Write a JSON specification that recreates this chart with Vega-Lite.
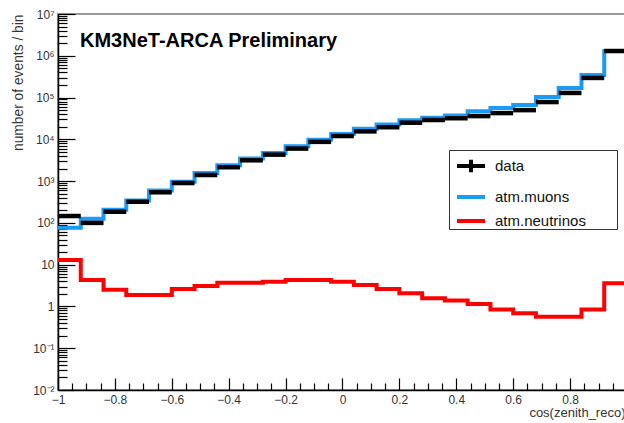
{
  "$schema": "https://vega.github.io/schema/vega-lite/v6.json",
  "width": 567,
  "height": 376,
  "autosize": {"type": "none"},
  "padding": {"left": 58, "top": 14, "right": 0, "bottom": 33},
  "background": "white",
  "config": {
    "font": "Liberation Sans",
    "view": {"stroke": "#777", "strokeWidth": 1.5},
    "axis": {"grid": false}
  },
  "title": {
    "text": "KM3NeT-ARCA Preliminary",
    "anchor": "start",
    "frame": "group",
    "orient": "top",
    "offset": 0,
    "dx": 22,
    "dy": 59,
    "baseline": "alphabetic",
    "font": "Liberation Sans",
    "fontSize": 20,
    "fontWeight": "bold",
    "color": "#000"
  },
  "datasets": {
    "hist": [
      {"series": "atm.muons", "x": -1.00, "y": 76},
      {"series": "atm.muons", "x": -0.92, "y": 125},
      {"series": "atm.muons", "x": -0.84, "y": 205},
      {"series": "atm.muons", "x": -0.76, "y": 345},
      {"series": "atm.muons", "x": -0.68, "y": 600},
      {"series": "atm.muons", "x": -0.60, "y": 960},
      {"series": "atm.muons", "x": -0.52, "y": 1560},
      {"series": "atm.muons", "x": -0.44, "y": 2400},
      {"series": "atm.muons", "x": -0.36, "y": 3500},
      {"series": "atm.muons", "x": -0.28, "y": 4700},
      {"series": "atm.muons", "x": -0.20, "y": 6800},
      {"series": "atm.muons", "x": -0.12, "y": 9800},
      {"series": "atm.muons", "x": -0.04, "y": 13500},
      {"series": "atm.muons", "x": 0.04, "y": 17800},
      {"series": "atm.muons", "x": 0.12, "y": 22500},
      {"series": "atm.muons", "x": 0.20, "y": 28500},
      {"series": "atm.muons", "x": 0.28, "y": 33000},
      {"series": "atm.muons", "x": 0.36, "y": 37000},
      {"series": "atm.muons", "x": 0.44, "y": 47000},
      {"series": "atm.muons", "x": 0.52, "y": 56000},
      {"series": "atm.muons", "x": 0.60, "y": 66000},
      {"series": "atm.muons", "x": 0.68, "y": 103000},
      {"series": "atm.muons", "x": 0.76, "y": 170000},
      {"series": "atm.muons", "x": 0.84, "y": 347000},
      {"series": "atm.muons", "x": 0.92, "y": 1300000},
      {"series": "atm.muons", "x": 1.00, "y": 1300000},
      {"series": "atm.neutrinos", "x": -1.00, "y": 12.9},
      {"series": "atm.neutrinos", "x": -0.92, "y": 4.3},
      {"series": "atm.neutrinos", "x": -0.84, "y": 2.5},
      {"series": "atm.neutrinos", "x": -0.76, "y": 1.87},
      {"series": "atm.neutrinos", "x": -0.68, "y": 1.87},
      {"series": "atm.neutrinos", "x": -0.60, "y": 2.6},
      {"series": "atm.neutrinos", "x": -0.52, "y": 3.1},
      {"series": "atm.neutrinos", "x": -0.44, "y": 3.7},
      {"series": "atm.neutrinos", "x": -0.36, "y": 3.7},
      {"series": "atm.neutrinos", "x": -0.28, "y": 3.9},
      {"series": "atm.neutrinos", "x": -0.20, "y": 4.3},
      {"series": "atm.neutrinos", "x": -0.12, "y": 4.3},
      {"series": "atm.neutrinos", "x": -0.04, "y": 3.9},
      {"series": "atm.neutrinos", "x": 0.04, "y": 3.26},
      {"series": "atm.neutrinos", "x": 0.12, "y": 2.6},
      {"series": "atm.neutrinos", "x": 0.20, "y": 2.06},
      {"series": "atm.neutrinos", "x": 0.28, "y": 1.57},
      {"series": "atm.neutrinos", "x": 0.36, "y": 1.38},
      {"series": "atm.neutrinos", "x": 0.44, "y": 1.15},
      {"series": "atm.neutrinos", "x": 0.52, "y": 0.85},
      {"series": "atm.neutrinos", "x": 0.60, "y": 0.69},
      {"series": "atm.neutrinos", "x": 0.68, "y": 0.57},
      {"series": "atm.neutrinos", "x": 0.76, "y": 0.57},
      {"series": "atm.neutrinos", "x": 0.84, "y": 0.85},
      {"series": "atm.neutrinos", "x": 0.92, "y": 3.6},
      {"series": "atm.neutrinos", "x": 1.00, "y": 3.6}
    ],
    "obs": [
      {"lo": -1.00, "hi": -0.92, "n": 146},
      {"lo": -0.92, "hi": -0.84, "n": 100},
      {"lo": -0.84, "hi": -0.76, "n": 185},
      {"lo": -0.76, "hi": -0.68, "n": 320},
      {"lo": -0.68, "hi": -0.60, "n": 540},
      {"lo": -0.60, "hi": -0.52, "n": 900},
      {"lo": -0.52, "hi": -0.44, "n": 1400},
      {"lo": -0.44, "hi": -0.36, "n": 2150},
      {"lo": -0.36, "hi": -0.28, "n": 3150},
      {"lo": -0.28, "hi": -0.20, "n": 4300},
      {"lo": -0.20, "hi": -0.12, "n": 6000},
      {"lo": -0.12, "hi": -0.04, "n": 8700},
      {"lo": -0.04, "hi": 0.04, "n": 12000},
      {"lo": 0.04, "hi": 0.12, "n": 15500},
      {"lo": 0.12, "hi": 0.20, "n": 19500},
      {"lo": 0.20, "hi": 0.28, "n": 25000},
      {"lo": 0.28, "hi": 0.36, "n": 29000},
      {"lo": 0.36, "hi": 0.44, "n": 32000},
      {"lo": 0.44, "hi": 0.52, "n": 36000},
      {"lo": 0.52, "hi": 0.60, "n": 42500},
      {"lo": 0.60, "hi": 0.68, "n": 50000},
      {"lo": 0.68, "hi": 0.76, "n": 78000},
      {"lo": 0.76, "hi": 0.84, "n": 129000},
      {"lo": 0.84, "hi": 0.92, "n": 295000},
      {"lo": 0.92, "hi": 1.00, "n": 1300000}
    ]
  },
  "resolve": {"axis": {"x": "independent", "y": "independent"}},
  "layer": [
    {
      "data": {"name": "hist"},
      "mark": {"type": "line", "interpolate": "step-after", "strokeWidth": 4, "clip": true},
      "encoding": {
        "x": {
          "field": "x", "type": "quantitative",
          "scale": {"domain": [-1, 0.993], "nice": false, "zero": false},
          "axis": {
            "orient": "bottom",
            "values": [-1, -0.8, -0.6, -0.4, -0.2, 0, 0.2, 0.4, 0.6, 0.8],
            "format": "~g",
            "tickSize": -12, "tickWidth": 1.2, "tickColor": "#000",
            "domainColor": "#000", "domainWidth": 1.5,
            "labelFontSize": 12, "labelColor": "#333", "labelPadding": 16,
            "labelFlush": false,
            "title": "cos(zenith_reco)", "titleAnchor": "end", "titleFontSize": 13,
            "titleFontWeight": "normal", "titleColor": "#333", "titlePadding": 1
          }
        },
        "y": {
          "field": "y", "type": "quantitative",
          "scale": {"type": "log", "domain": [0.01, 10000000], "nice": false},
          "axis": {
            "orient": "left",
            "values": [0.01, 0.1, 1, 10, 100, 1000, 10000, 100000, 1000000, 10000000],
            "labelExpr": "['10⁻²','10⁻¹','1','10','10²','10³','10⁴','10⁵','10⁶','10⁷'][round(log(datum.value)/LN10)+2]",
            "tickSize": -17, "tickWidth": 1.2, "tickColor": "#000",
            "domainColor": "#000", "domainWidth": 1.5,
            "labelFontSize": 12, "labelColor": "#333", "labelPadding": 21,
            "labelFlush": false,
            "title": "number of events / bin", "titleAnchor": "end", "titleFontSize": 13.8,
            "titleFontWeight": "normal", "titleColor": "#333", "titlePadding": 7
          }
        },
        "color": {
          "field": "series", "type": "nominal",
          "scale": {"domain": ["data", "atm.muons", "atm.neutrinos"], "range": ["#000000", "#1a9bf5", "#ff0000"]},
          "legend": {
            "title": null,
            "orient": "none",
            "legendX": 391,
            "legendY": 136,
            "padding": 0,
            "strokeColor": "#333",
            "fillColor": "#ffffff",
            "symbolSize": 784,
            "symbolStrokeWidth": 4,
            "symbolOffset": 6,
            "labelOffset": 8,
            "labelFontSize": 15,
            "labelColor": "#111",
            "rowPadding": 0,
            "labelExpr": "datum.label + '\u2800\u00a0\u00a0\u2800'",
            "encode": {
              "symbols": {
                "update": {
                  "shape": {"signal": "datum.value === 'data' ? 'M-1,0H1M0,-0.45V0.45' : 'M-1,0H1'"}
                }
              }
            }
          }
        }
      }
    },
    {
      "data": {"name": "obs"},
      "mark": {"type": "rule", "strokeWidth": 4.5, "clip": true},
      "encoding": {
        "x": {
          "field": "lo", "type": "quantitative",
          "axis": {
            "orient": "bottom",
            "values": [-0.95, -0.9, -0.85, -0.75, -0.7, -0.65, -0.55, -0.5, -0.45, -0.35, -0.3, -0.25, -0.15, -0.1, -0.05, 0.05, 0.1, 0.15, 0.25, 0.3, 0.35, 0.45, 0.5, 0.55, 0.65, 0.7, 0.75, 0.85, 0.9, 0.95],
            "labels": false, "domain": false, "title": null,
            "tickSize": -7, "tickWidth": 1.2, "tickColor": "#000"
          }
        },
        "x2": {"field": "hi"},
        "y": {
          "field": "n", "type": "quantitative",
          "axis": {
            "orient": "left",
            "values": [0.02,0.03,0.04,0.05,0.06,0.07,0.08,0.09,0.2,0.3,0.4,0.5,0.6,0.7,0.8,0.9,2,3,4,5,6,7,8,9,20,30,40,50,60,70,80,90,200,300,400,500,600,700,800,900,2000,3000,4000,5000,6000,7000,8000,9000,20000,30000,40000,50000,60000,70000,80000,90000,200000,300000,400000,500000,600000,700000,800000,900000,2000000,3000000,4000000,5000000,6000000,7000000,8000000,9000000],
            "labels": false, "domain": false, "title": null,
            "tickSize": -9, "tickWidth": 1.2, "tickColor": "#000"
          }
        },
        "color": {"datum": "data"}
      }
    }
  ]
}
